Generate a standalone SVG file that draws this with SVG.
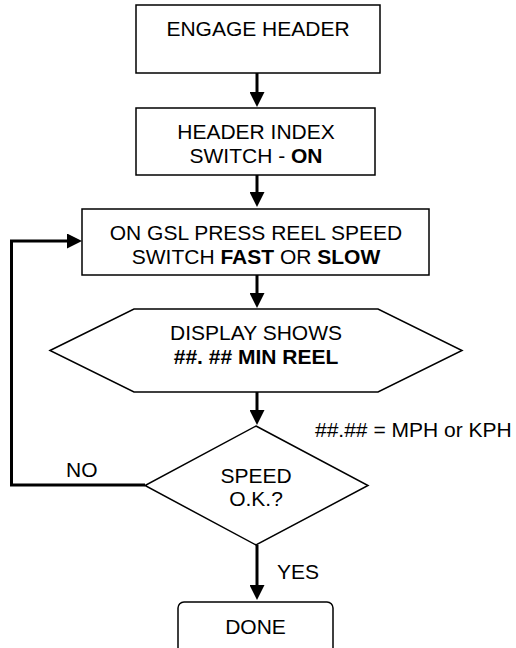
<svg xmlns="http://www.w3.org/2000/svg" width="516" height="648" viewBox="0 0 516 648">
<style>
.box{fill:#fff;stroke:#000;stroke-width:1.5}
.t{font-family:"Liberation Sans",Arial,sans-serif;font-size:21px;fill:#000}
.c{text-anchor:middle}
.b{font-weight:bold}
.con{fill:none;stroke:#000;stroke-width:3}
</style>
<defs>
<marker id="ah" viewBox="0 0 10 10" refX="0" refY="5" markerWidth="5" markerHeight="5" orient="auto" markerUnits="strokeWidth">
<path d="M0,0 L10,5 L0,10 Z" fill="#000"/>
</marker>
</defs>
<rect width="516" height="648" fill="#fff"/>
<g id="connectors">
<path class="con" d="M257,73 V92" marker-end="url(#ah)"/>
<path class="con" d="M257,175 V192" marker-end="url(#ah)"/>
<path class="con" d="M257,275 V293" marker-end="url(#ah)"/>
<path class="con" d="M257,392 V410" marker-end="url(#ah)"/>
<path class="con" d="M257,545 V585" marker-end="url(#ah)"/>
<path class="con" d="M145,485 H11.5 V241 H67" marker-end="url(#ah)"/>
</g>
<g id="n1">
<rect class="box" x="136" y="5" width="244" height="68"/>
<text class="t c" x="258" y="36">ENGAGE HEADER</text>
</g>
<g id="n2">
<rect class="box" x="136" y="108" width="239" height="67"/>
<text class="t c" x="256" y="139">HEADER INDEX</text>
<text class="t c" x="256" y="163">SWITCH - <tspan class="b">ON</tspan></text>
</g>
<g id="n3">
<rect class="box" x="82" y="209" width="347" height="66"/>
<text class="t c" x="256" y="240">ON GSL PRESS REEL SPEED</text>
<text class="t c" x="256" y="264">SWITCH <tspan class="b">FAST</tspan> OR <tspan class="b">SLOW</tspan></text>
</g>
<g id="n4">
<polygon class="box" points="50,350.5 134,309 378,309 462,350.5 378,392 134,392"/>
<text class="t c" x="256" y="340">DISPLAY SHOWS</text>
<text class="t c b" x="256" y="364">##. ## MIN REEL</text>
</g>
<g id="note">
<text class="t" x="315" y="437">##.## = MPH or KPH</text>
</g>
<g id="n5">
<polygon class="box" points="256,426 368,485.5 256,545 145,485.5"/>
<text class="t c" x="256" y="483">SPEED</text>
<text class="t c" x="256" y="506">O.K.?</text>
</g>
<g id="labels">
<text class="t" x="66" y="477">NO</text>
<text class="t" x="277" y="579">YES</text>
</g>
<g id="n6">
<rect class="box" x="178" y="602" width="155" height="56" rx="6"/>
<text class="t c" x="255.5" y="634">DONE</text>
</g>
</svg>
